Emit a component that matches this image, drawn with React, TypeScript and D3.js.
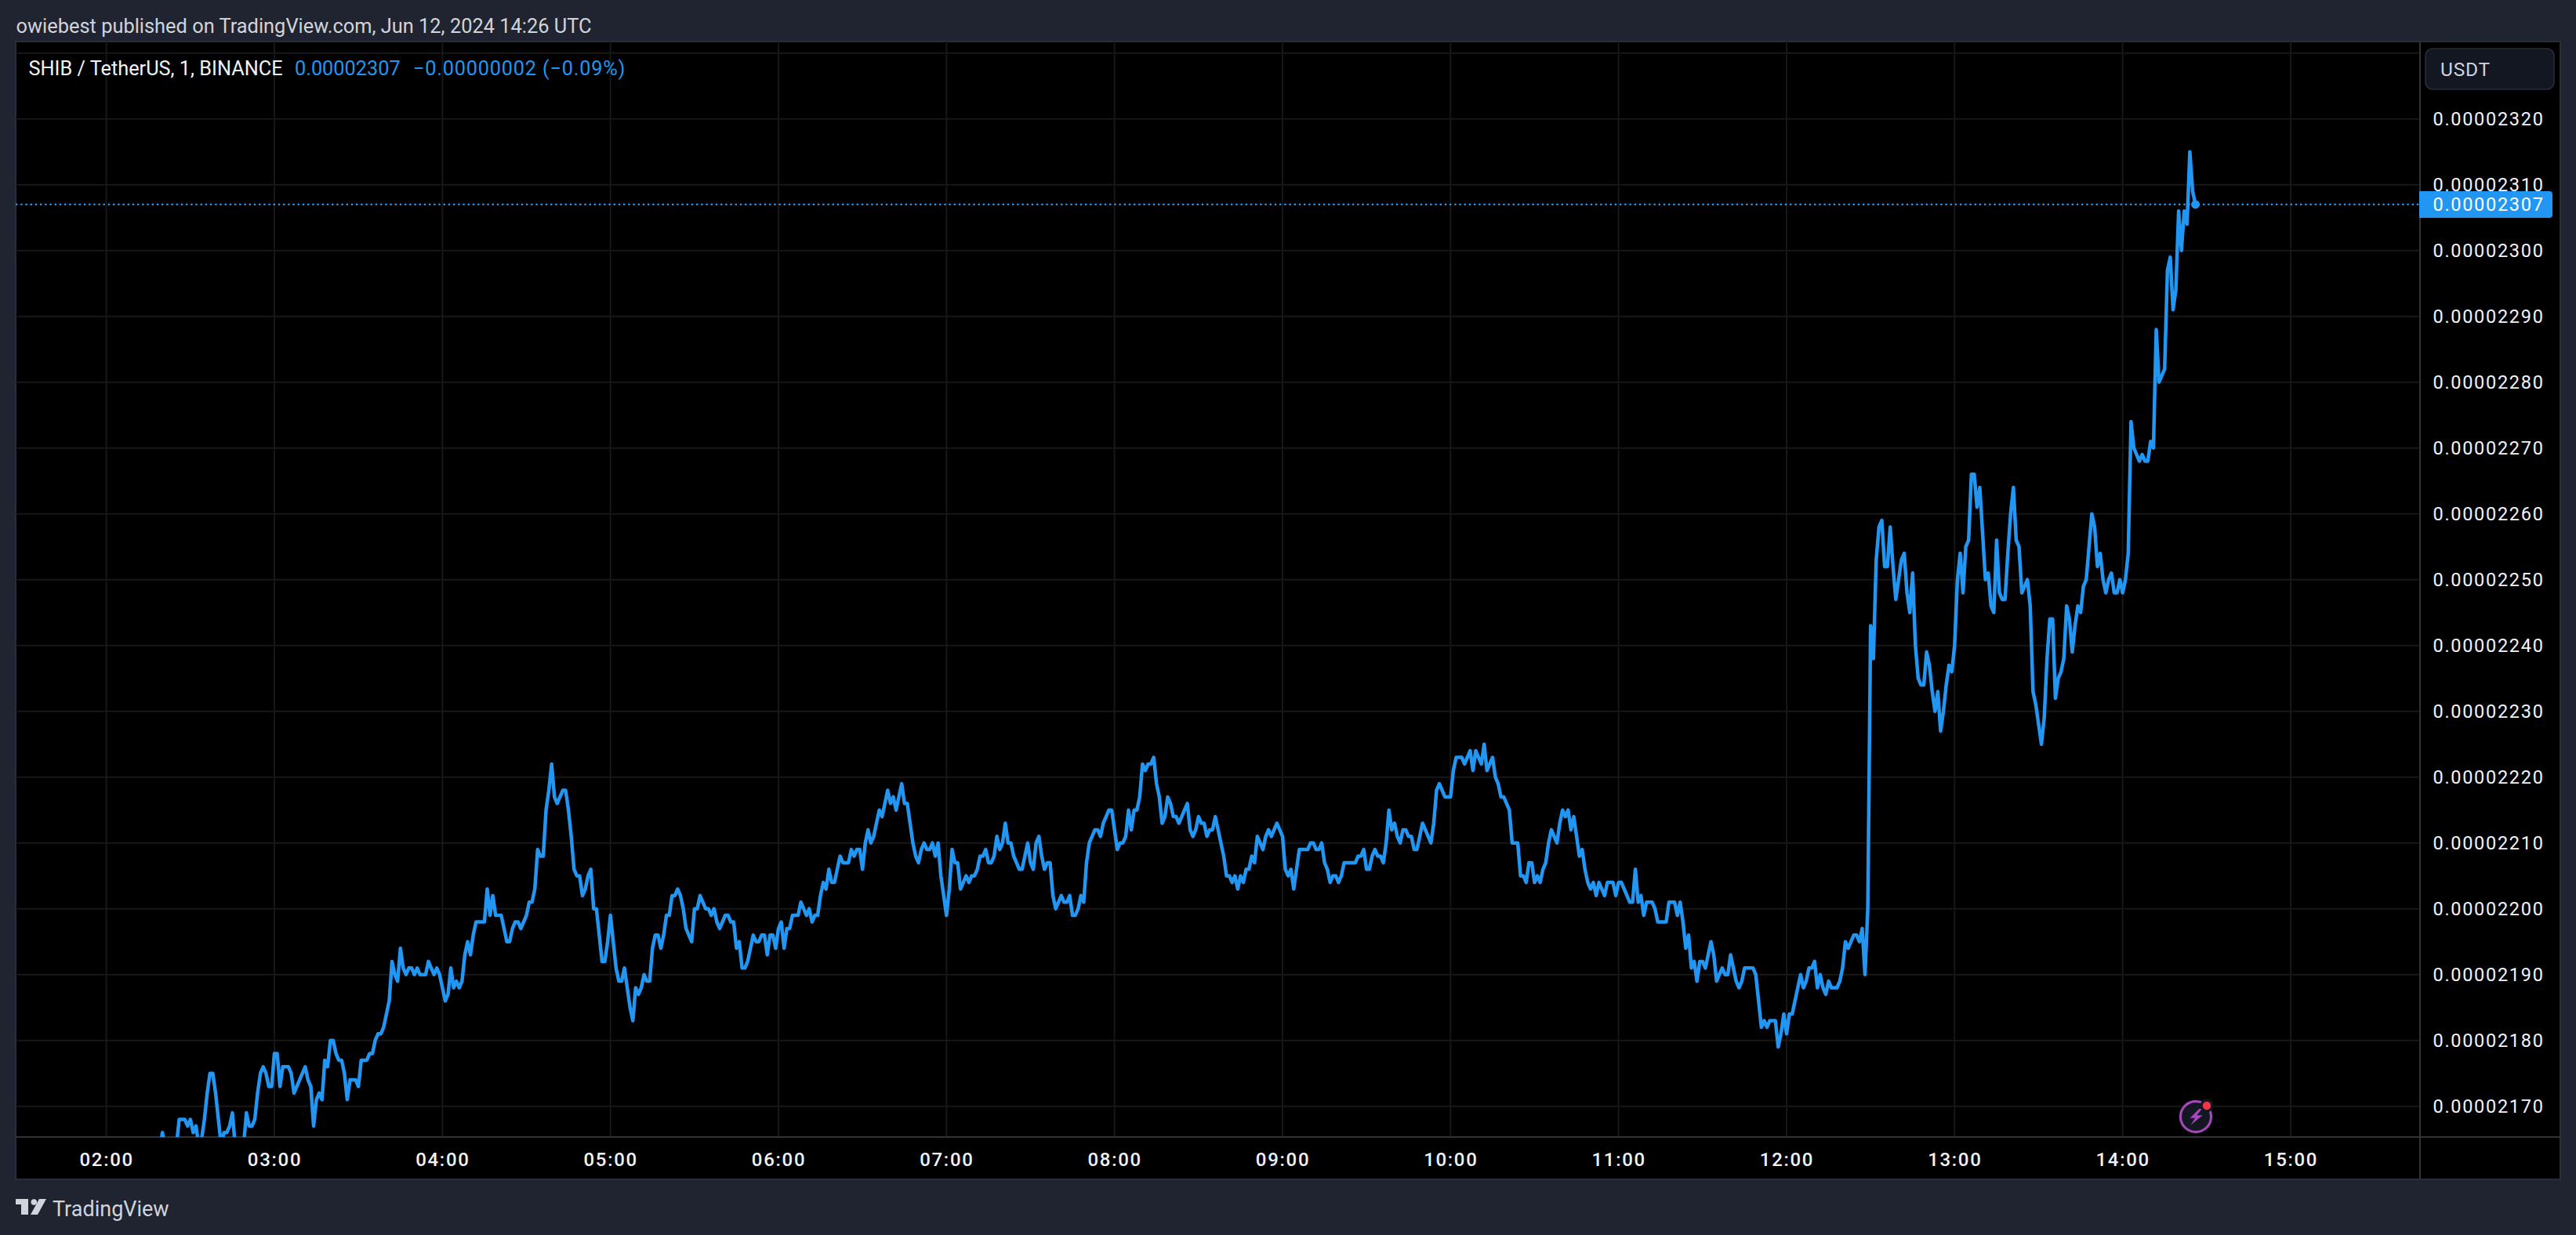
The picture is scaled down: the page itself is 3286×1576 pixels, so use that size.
import { useEffect, useRef } from 'react'
import * as d3 from 'd3'

// closes in units of 0.00000001 USDT, one per minute, grouped by hour
const hour02 = [ // starts at 02:19, the line is below the pane before that
  2163,
  2166, 2164, 2163, 2163, 2163, 2164, 2168, 2168, 2168, 2167,
  2168, 2166, 2167, 2164, 2165, 2168, 2172, 2175, 2175, 2172,
  2168, 2164, 2166, 2166, 2167, 2169, 2164, 2162, 2162, 2164,
  2169, 2167, 2167, 2168, 2172, 2175, 2176, 2175, 2173, 2173,
]
const hour03 = [
  2178, 2178, 2173, 2176, 2176, 2176, 2175, 2172, 2173, 2174,
  2175, 2176, 2174, 2173, 2167, 2171, 2172, 2171, 2177, 2176,
  2180, 2180, 2178, 2177, 2177, 2175, 2171, 2174, 2174, 2174,
  2173, 2177, 2177, 2177, 2178, 2178, 2180, 2181, 2181, 2182,
  2184, 2186, 2192, 2190, 2189, 2194, 2191, 2190, 2191, 2191,
  2190, 2191, 2190, 2190, 2190, 2192, 2191, 2190, 2191, 2190,
]
const hour04 = [
  2188, 2186, 2187, 2191, 2188, 2189, 2188, 2189, 2193, 2195,
  2193, 2196, 2198, 2198, 2198, 2198, 2203, 2199, 2202, 2199,
  2199, 2199, 2197, 2195, 2195, 2197, 2198, 2198, 2197, 2198,
  2199, 2201, 2201, 2203, 2209, 2208, 2208, 2215, 2218, 2222,
  2217, 2216, 2217, 2218, 2218, 2215, 2211, 2206, 2205, 2205,
  2202, 2203, 2205, 2206, 2200, 2200, 2196, 2192, 2192, 2195,
]
const hour05 = [
  2199, 2195, 2191, 2189, 2189, 2191, 2188, 2185, 2183, 2188,
  2187, 2188, 2190, 2189, 2189, 2194, 2196, 2196, 2194, 2196,
  2199, 2199, 2202, 2202, 2203, 2202, 2200, 2197, 2196, 2195,
  2200, 2200, 2202, 2201, 2200, 2200, 2199, 2200, 2198, 2197,
  2198, 2199, 2199, 2198, 2198, 2194, 2195, 2191, 2191, 2192,
  2194, 2196, 2195, 2195, 2196, 2196, 2193, 2196, 2196, 2194,
]
const hour06 = [
  2197, 2198, 2194, 2197, 2197, 2199, 2199, 2199, 2201, 2200,
  2199, 2200, 2198, 2199, 2199, 2202, 2204, 2203, 2206, 2204,
  2204, 2206, 2208, 2207, 2207, 2207, 2209, 2208, 2209, 2209,
  2206, 2210, 2212, 2210, 2211, 2213, 2215, 2214, 2216, 2218,
  2216, 2217, 2215, 2217, 2219, 2216, 2216, 2213, 2210, 2208,
  2207, 2209, 2210, 2209, 2209, 2210, 2208, 2210, 2205, 2202,
]
const hour07 = [
  2199, 2203, 2209, 2207, 2207, 2203, 2204, 2205, 2204, 2205,
  2205, 2206, 2208, 2208, 2209, 2207, 2207, 2208, 2211, 2209,
  2210, 2213, 2210, 2210, 2208, 2207, 2206, 2206, 2208, 2210,
  2207, 2206, 2210, 2211, 2208, 2206, 2207, 2207, 2202, 2200,
  2201, 2202, 2201, 2201, 2202, 2199, 2199, 2200, 2202, 2201,
  2207, 2210, 2211, 2212, 2212, 2211, 2213, 2214, 2215, 2215,
]
const hour08 = [
  2212, 2209, 2210, 2210, 2211, 2215, 2212, 2215, 2215, 2217,
  2222, 2221, 2222, 2222, 2223, 2219, 2217, 2213, 2214, 2217,
  2216, 2214, 2214, 2213, 2214, 2215, 2216, 2212, 2211, 2212,
  2214, 2213, 2213, 2211, 2212, 2212, 2214, 2212, 2210, 2208,
  2205, 2205, 2204, 2205, 2203, 2205, 2204, 2206, 2206, 2208,
  2207, 2211, 2210, 2209, 2211, 2212, 2211, 2212, 2213, 2212,
]
const hour09 = [
  2211, 2206, 2205, 2206, 2203, 2206, 2209, 2209, 2209, 2209,
  2210, 2210, 2209, 2209, 2210, 2207, 2206, 2204, 2205, 2205,
  2204, 2205, 2207, 2207, 2207, 2207, 2207, 2208, 2208, 2209,
  2206, 2206, 2208, 2209, 2208, 2208, 2207, 2210, 2215, 2212,
  2213, 2211, 2210, 2212, 2212, 2211, 2211, 2209, 2209, 2211,
  2213, 2212, 2211, 2210, 2213, 2218, 2219, 2218, 2217, 2217,
]
const hour10 = [
  2217, 2221, 2223, 2223, 2223, 2222, 2223, 2224, 2221, 2224,
  2223, 2222, 2225, 2221, 2222, 2223, 2220, 2219, 2217, 2217,
  2216, 2215, 2210, 2210, 2210, 2205, 2205, 2204, 2207, 2207,
  2204, 2205, 2204, 2206, 2207, 2210, 2212, 2211, 2210, 2213,
  2215, 2214, 2215, 2212, 2214, 2211, 2208, 2209, 2206, 2204,
  2203, 2204, 2202, 2204, 2203, 2202, 2204, 2204, 2204, 2202,
]
const hour11 = [
  2204, 2204, 2203, 2202, 2201, 2201, 2206, 2201, 2202, 2199,
  2201, 2201, 2201, 2200, 2198, 2198, 2198, 2198, 2201, 2201,
  2201, 2199, 2201, 2198, 2194, 2196, 2191, 2192, 2189, 2192,
  2192, 2191, 2193, 2195, 2193, 2189, 2190, 2191, 2190, 2190,
  2193, 2191, 2189, 2188, 2189, 2191, 2191, 2191, 2191, 2190,
  2186, 2182, 2183, 2182, 2183, 2183, 2183, 2179, 2181, 2184,
]
const hour12 = [
  2181, 2184, 2184, 2186, 2188, 2190, 2188, 2189, 2191, 2191,
  2192, 2188, 2190, 2188, 2187, 2189, 2188, 2188, 2188, 2189,
  2191, 2195, 2194, 2195, 2196, 2196, 2195, 2197, 2190, 2200,
  2243, 2238, 2253, 2258, 2259, 2252, 2252, 2258, 2252, 2247,
  2250, 2253, 2254, 2248, 2245, 2251, 2240, 2235, 2234, 2234,
  2239, 2237, 2233, 2230, 2233, 2227, 2230, 2234, 2237, 2236,
]
const hour13 = [
  2240, 2250, 2254, 2248, 2255, 2256, 2266, 2266, 2261, 2264,
  2257, 2250, 2251, 2246, 2245, 2256, 2248, 2247, 2247, 2254,
  2260, 2264, 2256, 2255, 2248, 2249, 2250, 2246, 2233, 2231,
  2228, 2225, 2229, 2238, 2244, 2244, 2232, 2235, 2236, 2238,
  2246, 2244, 2239, 2243, 2246, 2245, 2249, 2250, 2255, 2260,
  2258, 2252, 2254, 2250, 2248, 2250, 2251, 2248, 2248, 2250,
]
const hour14 = [
  2248, 2250, 2254, 2274, 2270, 2269, 2268, 2269, 2268, 2268,
  2271, 2270, 2288, 2280, 2281, 2282, 2297, 2299, 2291, 2294,
  2306, 2300, 2306, 2304, 2315, 2309, 2307,
]

const priceTicks = [2330, 2320, 2310, 2300, 2290, 2280, 2270, 2260, 2250, 2240, 2230, 2220, 2210, 2200, 2190, 2180, 2170]
const hourTicks = [2, 3, 4, 5, 6, 7, 8, 9, 10, 11, 12, 13, 14, 15]
const lastPrice = 2307

const at = (h: number, m = 0) => new Date(Date.UTC(2024, 5, 12, h, m))
const label = (v: number) => d3.format('.8f')(v * 1e-8)

const closes = [
  ...hour02.map((v, i) => ({ t: at(2, 19 + i), v })),
  ...[hour03, hour04, hour05, hour06, hour07, hour08, hour09, hour10, hour11, hour12, hour13, hour14].flatMap((vals, h) =>
    vals.map((v, i) => ({ t: at(h + 3, i), v })),
  ),
]

const PAGE = '#1f2430'
const BORDER = '#2a2e39'
const GRID = '#171717'
const BLUE = '#2196f3'
const FONT = 'Roboto, sans-serif'

const App = () => {
  const svgRef = useRef<SVGSVGElement>(null)

  useEffect(() => {
    const width = 3286
    const height = 1576
    const left = 20
    const right = 3266
    const top = 53
    const bottom = 1505
    const paneRight = 3087
    const paneBottom = 1451

    const x = d3.scaleUtc().domain([at(2), at(15)]).range([135.7, 2922])
    const y = d3.scaleLinear().domain([2320, 2170]).range([151.7, 1411.7])

    const svg = d3.select(svgRef.current)
    svg.selectAll('*').remove()
    svg.attr('width', width).attr('height', height).attr('viewBox', `0 0 ${width} ${height}`)

    svg.append('rect').attr('width', width).attr('height', height).attr('fill', PAGE)
    svg
      .append('rect')
      .attr('x', left)
      .attr('y', top)
      .attr('width', right - left)
      .attr('height', bottom - top)
      .attr('fill', '#000')
      .attr('stroke', BORDER)
      .attr('stroke-width', 2)

    svg
      .append('clipPath')
      .attr('id', 'pane')
      .append('rect')
      .attr('x', left)
      .attr('y', top)
      .attr('width', paneRight - left)
      .attr('height', paneBottom - top)

    // grid
    const grid = svg.append('g')
    grid
      .selectAll('line.h')
      .data(priceTicks)
      .join('line')
      .attr('class', 'h')
      .attr('x1', left)
      .attr('x2', paneRight)
      .attr('y1', (d) => y(d))
      .attr('y2', (d) => y(d))
    grid
      .selectAll('line.v')
      .data(hourTicks)
      .join('line')
      .attr('class', 'v')
      .attr('x1', (d) => x(at(d)))
      .attr('x2', (d) => x(at(d)))
      .attr('y1', top)
      .attr('y2', paneBottom)
    grid.selectAll('line').attr('stroke', GRID).attr('stroke-width', 2)

    // pane dividers
    svg
      .append('line')
      .attr('x1', left)
      .attr('x2', right)
      .attr('y1', paneBottom)
      .attr('y2', paneBottom)
      .attr('stroke', '#333333')
      .attr('stroke-width', 2)
    svg
      .append('line')
      .attr('x1', paneRight)
      .attr('x2', paneRight)
      .attr('y1', top)
      .attr('y2', bottom)
      .attr('stroke', '#333333')
      .attr('stroke-width', 2)

    // last price line
    svg
      .append('line')
      .attr('x1', left)
      .attr('x2', paneRight)
      .attr('y1', y(lastPrice))
      .attr('y2', y(lastPrice))
      .attr('stroke', BLUE)
      .attr('stroke-width', 2.4)
      .attr('stroke-dasharray', '2.4 3.8')

    const line = d3
      .line<{ t: Date; v: number }>()
      .x((d) => x(d.t))
      .y((d) => y(d.v))
    svg
      .append('path')
      .attr('d', line(closes))
      .attr('fill', 'none')
      .attr('stroke', BLUE)
      .attr('stroke-width', 4.5)
      .attr('stroke-linejoin', 'round')
      .attr('clip-path', 'url(#pane)')
    const end = closes[closes.length - 1]
    svg.append('circle').attr('cx', x(end.t)).attr('cy', y(end.v)).attr('r', 5.5).attr('fill', BLUE)

    // time axis
    const timeAxis = d3
      .axisBottom(x)
      .tickValues(hourTicks.map((h) => at(h)))
      .tickFormat((d) => d3.utcFormat('%H:%M')(d as Date))
      .tickSize(0)
    const tg = svg.append('g').attr('transform', `translate(0,${paneBottom})`).call(timeAxis)
    tg.select('.domain').remove()
    tg.selectAll('text')
      .attr('y', 29)
      .attr('dy', '0.35em')
      .attr('fill', '#f0f3fa')
      .attr('font-family', FONT)
      .attr('font-size', 24)
      .attr('font-weight', 500)
      .attr('letter-spacing', 1.7)

    // price axis
    const priceAxis = d3
      .axisRight(y)
      .tickValues(priceTicks.slice(1))
      .tickFormat((d) => label(d as number))
      .tickSize(0)
    const pg = svg.append('g').attr('transform', `translate(${paneRight},0)`).call(priceAxis)
    pg.select('.domain').remove()
    pg.selectAll('text')
      .attr('x', 16.5)
      .attr('dy', '0.35em')
      .attr('fill', '#f0f3fa')
      .attr('font-family', FONT)
      .attr('font-size', 23.5)
      .attr('letter-spacing', 1.7)

    // currency button
    svg
      .append('rect')
      .attr('x', 3094)
      .attr('y', 62)
      .attr('width', 164)
      .attr('height', 52)
      .attr('rx', 9)
      .attr('fill', '#131722')
      .attr('stroke', BORDER)
      .attr('stroke-width', 1.5)
    svg
      .append('text')
      .attr('x', 3113)
      .attr('y', 88)
      .attr('dy', '0.35em')
      .attr('fill', '#d1d4dc')
      .attr('font-family', FONT)
      .attr('font-size', 24.5)
      .attr('letter-spacing', 0.8)
      .text('USDT')

    // last price tag
    svg
      .append('path')
      .attr('d', 'M3086,244H3252a4,4 0 0 1 4,4V274a4,4 0 0 1 -4,4H3086Z')
      .attr('fill', BLUE)
    svg
      .append('text')
      .attr('x', 3103.5)
      .attr('y', y(lastPrice))
      .attr('dy', '0.35em')
      .attr('fill', '#fff')
      .attr('font-family', FONT)
      .attr('font-size', 23.5)
      .attr('letter-spacing', 1.7)
      .text(label(lastPrice))

    // header and legend
    svg
      .append('text')
      .attr('x', 20.5)
      .attr('y', 33)
      .attr('dy', '0.35em')
      .attr('fill', '#d1d4dc')
      .attr('font-family', FONT)
      .attr('font-size', 25.4)
      .text('owiebest published on TradingView.com, Jun 12, 2024 14:26 UTC')
    const legend = [
      { x: 36.5, text: 'SHIB / TetherUS, 1, BINANCE', fill: '#f0f3fa', spacing: 0 },
      { x: 376, text: label(lastPrice), fill: BLUE, spacing: 0 },
      { x: 527, text: '−0.00000002 (−0.09%)', fill: BLUE, spacing: 0.8 },
    ]
    svg
      .append('g')
      .selectAll('text')
      .data(legend)
      .join('text')
      .attr('x', (d) => d.x)
      .attr('y', 87)
      .attr('dy', '0.35em')
      .attr('fill', (d) => d.fill)
      .attr('font-family', FONT)
      .attr('font-size', 25.3)
      .attr('letter-spacing', (d) => d.spacing)
      .text((d) => d.text)

    // footer logo
    const logo = svg.append('g').attr('fill', '#d1d4dc')
    logo.append('path').attr('d', 'M20,1530H36V1550H27V1537H20Z')
    logo.append('circle').attr('cx', 43.3).attr('cy', 1534).attr('r', 3.8)
    logo.append('path').attr('d', 'M50,1530H59L48,1550H39Z')
    svg
      .append('text')
      .attr('x', 67)
      .attr('y', 1543)
      .attr('dy', '0.35em')
      .attr('fill', '#d1d4dc')
      .attr('font-family', FONT)
      .attr('font-size', 27)
      .text('TradingView')

    // lightning badge
    const badge = svg.append('g').attr('transform', 'translate(2801,1425)')
    badge.append('circle').attr('r', 22).attr('fill', '#131722')
    badge.append('circle').attr('r', 19.5).attr('fill', 'none').attr('stroke', '#ab47bc').attr('stroke-width', 3)
    badge
      .append('path')
      .attr('d', 'M4.4,-10L-7.4,1.7H-0.9L-6.6,10.7L8.7,-1.7H1.3L7.9,-10Z')
      .attr('fill', '#ab47bc')
    badge.append('circle').attr('cx', 14).attr('cy', -14).attr('r', 8.5).attr('fill', '#131722')
    badge.append('circle').attr('cx', 14).attr('cy', -14).attr('r', 5.2).attr('fill', '#f23645')
  }, [])

  return <svg ref={svgRef} style={{ position: 'absolute', left: 0, top: 0, display: 'block' }}></svg>
}

export default App
